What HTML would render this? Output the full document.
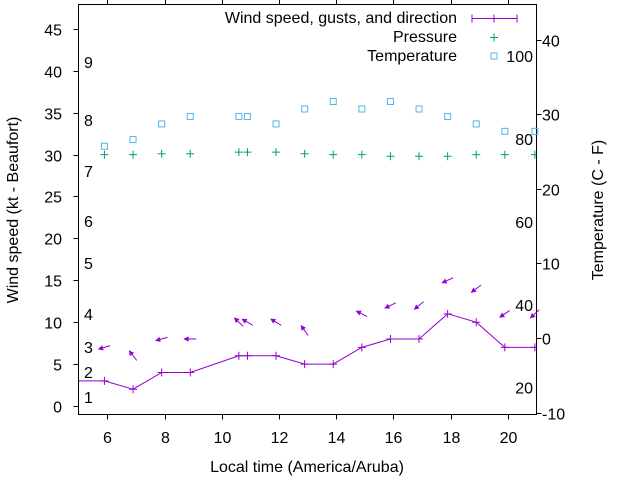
<!DOCTYPE html>
<html><head><meta charset="utf-8"><style>
html,body{margin:0;padding:0;background:#fff;}
svg{display:block;font-family:"Liberation Sans",sans-serif;}
</style></head><body>
<svg id="chart" width="640" height="480" viewBox="0 0 640 480" xmlns="http://www.w3.org/2000/svg">
<defs><clipPath id="plotclip"><rect x="78.5" y="4.5" width="458" height="410"/></clipPath></defs>
<g id="axes"></g>
<g id="marks"></g>
<g id="legend"></g>
</svg>
<script>
const hours=[4.9,5.9,6.9,7.9,8.9,10.6,10.9,11.9,12.9,13.9,14.9,15.9,16.9,17.9,18.9,19.9,20.95];
const windSpeed=[3,3,2,4,4,6,6,6,5,5,7,8,8,11,10,7,7];
const obsHours=[5.9,6.9,7.9,8.9,10.6,10.9,11.9,12.9,13.9,14.9,15.9,16.9,17.9,18.9,19.9,20.95];
const gusts=[7,6,8,8,10,10,10,9,11,12,12,15,14,11,11];
const gustHours=[5.9,6.9,7.9,8.9,10.6,10.9,11.9,12.9,14.9,15.9,16.9,17.9,18.9,19.9,20.95];
const windDir=[73,142,75,90,134,120,121,145,117,64,50,65,54,56,47];
const pressure=[30,30,30.1,30.1,30.3,30.3,30.3,30.1,30,30,29.8,29.8,29.8,30,30,30];
const temperature=[25.7,26.6,28.7,29.7,29.7,29.7,28.7,30.7,31.7,30.7,31.7,30.7,29.7,28.7,27.7,27.7];
const xTicks=[6,8,10,12,14,16,18,20];
const yTicks=[0,5,10,15,20,25,30,35,40,45];
const y2Ticks=[-10,0,10,20,30,40];
const beaufort=[["1",397],["2",372],["3",347],["4",314],["5",263],["6",221],["7",171],["8",120],["9",62]];
const fahrenheit=[20,40,60,80,100];

const L=78.5,R=536.5,T=4.5,B=414.5;
const x=h=>107.3+(h-6)*28.6;
const y=v=>406-v*8.38;
const y2=t=>338-t*7.46;
const NS="http://www.w3.org/2000/svg";
function mk(tag,attrs,parent,text){const e=document.createElementNS(NS,tag);for(const k in attrs)e.setAttribute(k,attrs[k]);if(text!==undefined)e.textContent=text;parent.appendChild(e);return e;}
const axes=document.getElementById('axes'),marks=document.getElementById('marks'),legend=document.getElementById('legend');

let e=mk('rect',{x:L,y:T,width:R-L,height:B-T,fill:'none',stroke:'#000','stroke-width':1},axes);

xTicks.forEach(h=>{
  const px=Math.round(x(h))+0.5;
  let t=mk('line',{x1:px,x2:px,y1:B,y2:B+5,stroke:'#000'},axes);
  
  t=mk('line',{x1:px,x2:px,y1:T,y2:T-5,stroke:'#000'},axes);
  
  t=mk('text',{x:px,y:443,'font-size':16,'text-anchor':'middle',fill:'#000'},axes,String(h));
  
});
yTicks.forEach(v=>{
  const py=Math.round(y(v))+0.5;
  let t=mk('line',{x1:L,x2:L-5,y1:py,y2:py,stroke:'#000'},axes);
  
  t=mk('text',{x:62,y:py+6,'font-size':16,'text-anchor':'end',fill:'#000'},axes,String(v));
  
});
y2Ticks.forEach(v=>{
  const py=Math.round(y2(v))+0.5;
  let t=mk('line',{x1:R,x2:R+5,y1:py,y2:py,stroke:'#000'},axes);
  
  t=mk('text',{x:542,y:py+6,'font-size':16,'text-anchor':'start',fill:'#000'},axes,String(v));
  
});
beaufort.forEach(b=>{
  let t=mk('text',{x:84,y:b[1]+6,'font-size':16,fill:'#000'},axes,b[0]);
  
});
fahrenheit.forEach(f=>{
  const py=y2((f-32)*5/9);
  let t=mk('text',{x:533,y:py+6,'font-size':16,'text-anchor':'end',fill:'#000'},axes,String(f));
  
});
e=mk('text',{x:0,y:0,'font-size':16,'text-anchor':'middle',transform:'translate(18,210) rotate(-90)'},axes,'Wind speed (kt - Beaufort)');

e=mk('text',{x:0,y:0,'font-size':16,'text-anchor':'middle',transform:'translate(603,210) rotate(-90)'},axes,'Temperature (C - F)');

e=mk('text',{x:307,y:472,'font-size':16,'text-anchor':'middle'},axes,'Local time (America/Aruba)');


const g=mk('g',{'clip-path':'url(#plotclip)'},marks);

const WC='#9400d3';
e=mk('polyline',{points:hours.map((h,i)=>x(h)+','+y(windSpeed[i])).join(' '),fill:'none',stroke:WC,'stroke-width':1},g);

hours.forEach((h,i)=>{
  const px=x(h),py=y(windSpeed[i]);
  let p=mk('path',{d:`M${px-4},${py}h8M${px},${py-4}v8`,stroke:WC,'stroke-width':1},g);
  
});
gustHours.forEach((h,i)=>{
  const cx=x(h),cy=y(gusts[i]);
  const a=windDir[i]*Math.PI/180;
  const ux=Math.sin(a),uy=-Math.cos(a); // toward tail (from direction)
  const hl=6;
  const tx=cx+ux*hl,ty=cy+uy*hl,hx=cx-ux*hl,hy=cy-uy*hl;
  const grp=mk('g',{},marks);
  
  mk('line',{x1:tx,y1:ty,x2:hx,y2:hy,stroke:WC,'stroke-width':1},grp);
  const px=-uy,py=ux,s=4;
  mk('polygon',{points:`${hx},${hy} ${hx+ux*s+px*2},${hy+uy*s+py*2} ${hx+ux*s-px*2},${hy+uy*s-py*2}`,fill:WC,stroke:WC,'stroke-width':0.8},grp);
});
obsHours.forEach((h,i)=>{
  const px=x(h),py=y(pressure[i]);
  let p=mk('path',{d:`M${px-4},${py}h8M${px},${py-4}v8`,stroke:'#009e73','stroke-width':1},g);
  
  const ty=y2(temperature[i]);
  p=mk('rect',{x:px-3,y:ty-3,width:6,height:6,fill:'none',stroke:'#56b4e9','stroke-width':1},marks);
  
});

e=mk('text',{x:457,y:23,'font-size':16,'text-anchor':'end'},legend,'Wind speed, gusts, and direction');

e=mk('path',{d:'M472,18.5h45M472,14.5v8M517,14.5v8M494,14.5v8',stroke:WC,fill:'none'},legend);

e=mk('text',{x:457,y:42,'font-size':16,'text-anchor':'end'},legend,'Pressure');

e=mk('path',{d:'M490,37.5h8M494,33.5v8',stroke:'#009e73'},legend);

e=mk('text',{x:457,y:61,'font-size':16,'text-anchor':'end'},legend,'Temperature');

e=mk('rect',{x:491,y:53,width:6,height:6,fill:'none',stroke:'#56b4e9'},legend);

</script>
</body></html>
